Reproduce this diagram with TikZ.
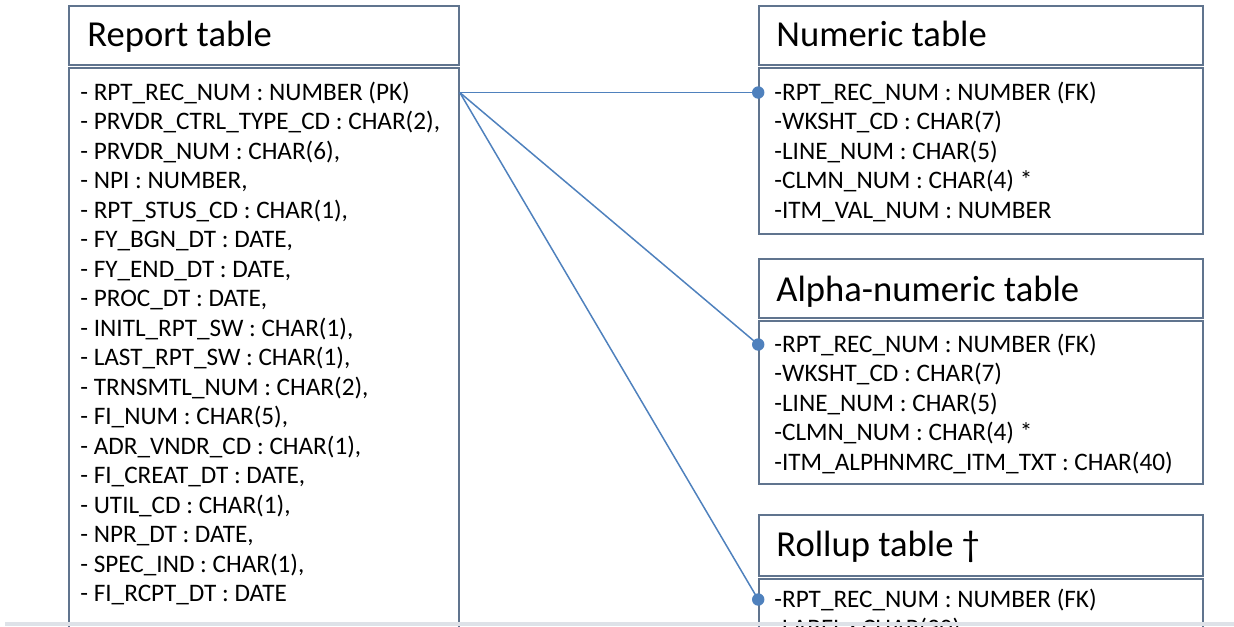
\documentclass[tikz,border=0pt]{standalone}
\usepackage{fontspec}
\setmainfont{Carlito}
\usetikzlibrary{fit}

\definecolor{boxgray}{RGB}{96,116,142}
\definecolor{linkblue}{RGB}{79,129,189}
\definecolor{bandgray}{RGB}{222,226,232}

\tikzset{
  tblbox/.style={draw=boxgray, line width=0.8pt, inner sep=0pt},
  tblhead/.style={anchor=base west, inner sep=0pt, text=black,
    font=\fontsize{18.3}{20}\selectfont},
  field/.style={anchor=base west, inner sep=0pt, text=black,
    font=\fontsize{12.6}{14}\selectfont},
  link/.style={linkblue, line width=0.75pt},
}

\begin{document}
\begin{tikzpicture}[x=0.5pt,y=-0.5pt]
\useasboundingbox (0,0) rectangle (1234,626);
\clip (0,0) rectangle (1234,626);

%left one: report table
\node[tblbox, fit={(69,6) (459,65)}] (rpthead) {};
\node[tblhead] (rpttitle) at (87,47) {Report table};
\node[tblbox, fit={(69,68) (459,680)}] (rptbody) {};
\foreach \f [count=\i] in {- RPT\_REC\_NUM : NUMBER (PK),
    {- PRVDR\_CTRL\_TYPE\_CD : CHAR(2),}, {- PRVDR\_NUM : CHAR(6),},
    {- NPI : NUMBER,}, {- RPT\_STUS\_CD : CHAR(1),}, {- FY\_BGN\_DT : DATE,},
    {- FY\_END\_DT : DATE,}, {- PROC\_DT : DATE,}, {- INITL\_RPT\_SW : CHAR(1),},
    {- LAST\_RPT\_SW : CHAR(1),}, {- TRNSMTL\_NUM : CHAR(2),},
    {- FI\_NUM : CHAR(5),}, {- ADR\_VNDR\_CD : CHAR(1),},
    {- FI\_CREAT\_DT : DATE,}, {- UTIL\_CD : CHAR(1),}, {- NPR\_DT : DATE,},
    {- SPEC\_IND : CHAR(1),}, - FI\_RCPT\_DT : DATE}
  \node[field] (rpt\i) at (80,{100+29.5*(\i-1)}) {\f};

% right top: numeric table
\node[tblbox, fit={(759,6) (1203,65)}] (numhead) {};
\node[tblhead] (numtitle) at (776,47) {Numeric table};
\node[tblbox, fit={(759,68) (1203,234)}] (numbody) {};
\foreach \f [count=\i] in {-RPT\_REC\_NUM : NUMBER (FK), -WKSHT\_CD : CHAR(7),
    -LINE\_NUM : CHAR(5), -CLMN\_NUM : CHAR(4) *, -ITM\_VAL\_NUM : NUMBER}
  \node[field] (num\i) at (774,{100+29.5*(\i-1)}) {\f};

% right middle: alpha-numeric table
\node[tblbox, fit={(759,259) (1203,318)}] (alphead) {};
\node[tblhead] (alptitle) at (776,301) {Alpha-numeric table};
\node[tblbox, fit={(759,321) (1203,484)}] (alpbody) {};
\foreach \f [count=\i] in {-RPT\_REC\_NUM : NUMBER (FK), -WKSHT\_CD : CHAR(7),
    -LINE\_NUM : CHAR(5), -CLMN\_NUM : CHAR(4) *,
    -ITM\_ALPHNMRC\_ITM\_TXT : CHAR(40)}
  \node[field] (alp\i) at (774,{352+29.5*(\i-1)}) {\f};

% right bottom: rollup table
\node[tblbox, fit={(759,515) (1203,576)}] (rolhead) {};
\node[tblhead] (roltitle) at (776,556) {Rollup table †};
\node[tblbox, fit={(759,579) (1203,700)}] (rolbody) {};
\node[field] (rol1) at (774,607) {-RPT\_REC\_NUM : NUMBER (FK)};
\node[field] (rol2) at (774,636.5) {-LABEL : CHAR(30)};

% links from the primary key
\draw[link] (rptbody.east |- rpt1) -- (numbody.west |- num1);
\draw[link] (rptbody.east |- rpt1) -- (alpbody.west |- alp1);
\draw[link] (rptbody.east |- rpt1) -- (rolbody.west |- rol1);
\fill[linkblue] (numbody.west |- num1) circle[radius=3.1pt];
\fill[linkblue] (alpbody.west |- alp1) circle[radius=3.1pt];
\fill[linkblue] (rolbody.west |- rol1) circle[radius=3.1pt];

% strip along the lower edge
\fill[bandgray] (5,622) rectangle (1234,626);

\end{tikzpicture}
\end{document}
